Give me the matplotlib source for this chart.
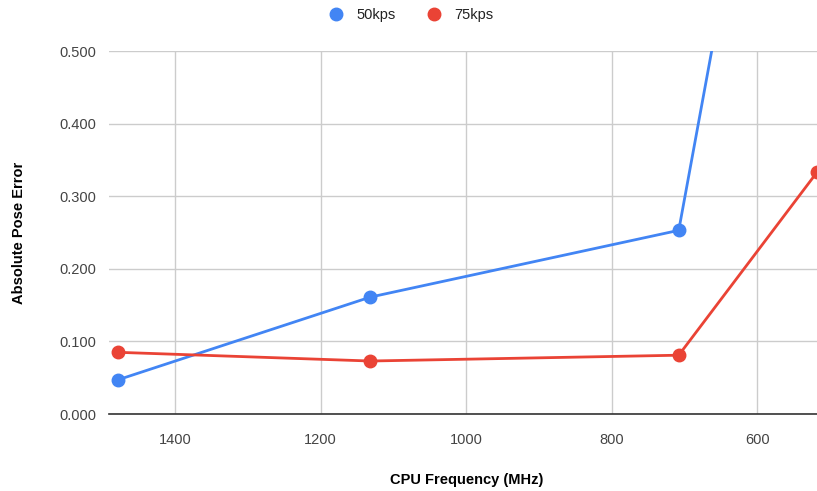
import numpy as np
import matplotlib
matplotlib.use('Agg')
import matplotlib.pyplot as plt

plt.rcParams['font.family'] = ['Liberation Sans', 'DejaVu Sans']

# cpu frequency (MHz)
freq = [1479, 1132, 708, 518]

# absolute pose error for each key-point setting
ape_50kps = [0.047, 0.161, 0.253, 1.29]
ape_75kps = [0.085, 0.073, 0.081, 0.333]

y_ticks = [0.0, 0.1, 0.2, 0.3, 0.4, 0.5]
x_ticks = [1400, 1200, 1000, 800, 600]

fig = plt.figure(figsize=(8.17, 4.91), dpi=100)
ax = fig.add_axes([0.1334, 0.1568, 0.8666, 0.7393])

ax.plot(freq, ape_50kps, color='#4285f4', lw=2, marker='o', ms=9, label='50kps')
ax.plot(freq, ape_75kps, color='#ea4335', lw=2, marker='o', ms=9, label='75kps')

ax.set_xlim(1491, 518)
ax.set_ylim(0, 0.5)
ax.set_xticks(x_ticks)
ax.set_yticks(y_ticks)
ax.set_yticklabels(['%.3f' % v for v in y_ticks])
ax.grid(True, color='#cccccc', lw=1)
ax.set_axisbelow(True)
ax.tick_params(length=0, labelsize=10.5, colors='#444444')
ax.tick_params(axis='y', pad=9)
ax.tick_params(axis='x', pad=14)
for s in ['top', 'right', 'left']:
    ax.spines[s].set_visible(False)
ax.spines['bottom'].set_color('#333333')
ax.spines['bottom'].set_linewidth(1.2)

ax.set_xlabel('CPU Frequency (MHz)', fontsize=10.5, fontweight='bold', va='center')
ax.xaxis.set_label_coords(0.505, -0.182)
ax.set_ylabel('Absolute Pose Error', fontsize=10.5, fontweight='bold', va='center')
ax.yaxis.set_label_coords(-0.127, 0.5)

fig.legend(loc='upper center', bbox_to_anchor=(0.502, 1.01), ncol=2, frameon=False,
           fontsize=10.5, handlelength=1.2, columnspacing=2.0, handletextpad=0.8,
           labelcolor='#222222')
for line in fig.legends[0].get_lines():
    line.set_linestyle('none')

plt.savefig('out.png')
plt.close()
